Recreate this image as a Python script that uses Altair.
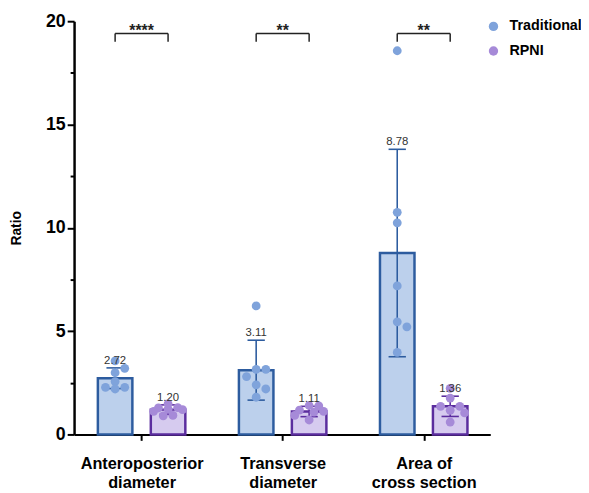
import json
import altair as alt
import pandas as pd

# ---------------- data ----------------
categories = ["Anteroposterior\ndiameter", "Transverse\ndiameter", "Area of\ncross section"]
groups = ["Traditional", "RPNI"]
trad_mean = [2.72, 3.11, 8.78]
rpni_mean = [1.20, 1.11, 1.36]
trad_sd = [0.50, 1.45, 5.02]
rpni_sd = [0.23, 0.25, 0.49]
trad_points = [
    [3.56, 3.20, 2.99, 2.56, 2.28, 2.28, 2.20],
    [6.22, 3.15, 3.15, 2.80, 2.40, 2.20, 1.80],
    [18.57, 10.75, 10.24, 7.19, 5.45, 5.21, 3.97],
]
rpni_points = [
    [1.48, 1.30, 1.28, 1.22, 1.20, 1.12, 0.92, 0.90],
    [1.40, 1.38, 1.18, 1.12, 1.08, 0.92, 0.70],
    [2.23, 1.76, 1.36, 1.36, 1.17, 1.04, 0.60],
]
significance = ["****", "**", "**"]
y_ticks = [0, 2.5, 5, 7.5, 10, 12.5, 15, 17.5, 20]

# ---------------- layout / style ----------------
W, H = 422, 419
PX_PER_X = 146.5
FIRST_CENTER = 65
X_DOMAIN = [-FIRST_CENTER / PX_PER_X, (W - FIRST_CENTER) / PX_PER_X]
PX_PER_Y = H / 20
GROUP_OFF = 27.5 / PX_PER_X
CAP_HALF = 9 / PX_PER_X
DIAM = 10
FONT = "Liberation Sans"

point_col = ["#7FA3DB", "#A68AD8"]
fill_col = ["#BCD0EC", "#D6CBEF"]
stroke_col = ["#2D5C9F", "#5B2D9E"]


def swarm(vals):
    """Simple beeswarm: spread near-equal values sideways, within the bar."""
    placed, offs = [], [0.0] * len(vals)
    order = sorted(range(len(vals)), key=lambda i: -vals[i])
    step = DIAM * 0.5
    cands = [0, 2, -2, 3, -3, 1, -1]
    for i in order:
        y = vals[i] * PX_PER_Y
        best, best_d = 0.0, -1.0
        for c in cands:
            x = c * step
            d = min([((x - px) ** 2 + (y - py) ** 2) ** 0.5 for px, py in placed] or [99])
            if d >= DIAM * 0.85:
                best = x
                break
            if d > best_d:
                best, best_d = x, d
        placed.append((best, y))
        offs[i] = best
    return [o / PX_PER_X for o in offs]


bar_rows, pt_rows, br_rows = [], [], []
for ci in range(len(categories)):
    for gi, (g, means, sds, pts) in enumerate(
        [("Traditional", trad_mean, trad_sd, trad_points), ("RPNI", rpni_mean, rpni_sd, rpni_points)]
    ):
        xc = ci + (-GROUP_OFF if gi == 0 else GROUP_OFF)
        m, s = means[ci], sds[ci]
        bar_rows.append(dict(group=g, x=xc, xl=xc - CAP_HALF, xr=xc + CAP_HALF,
                             mean=m, lo=m - s, hi=m + s, label=f"{m:.2f}"))
        for v, o in zip(pts[ci], swarm(pts[ci])):
            pt_rows.append(dict(group=g, x=xc + o, value=v))
    br_rows.append(dict(x1=ci - GROUP_OFF, x2=ci + GROUP_OFF, ytop=19.4, ylow=19.0, stars=significance[ci]))

bars_df = pd.DataFrame(bar_rows)
pts_df = pd.DataFrame(pt_rows)
br_df = pd.DataFrame(br_rows)

label_arr = json.dumps([c.split("\n") for c in categories])

x_scale = alt.Scale(domain=X_DOMAIN, nice=False, zero=False)
y_scale = alt.Scale(domain=[0, 20], nice=False)

x_axis = alt.Axis(
    values=list(range(len(categories))), labelExpr=f"{label_arr}[datum.value]",
    title=None, grid=False, domainColor="black", domainWidth=2, tickColor="black",
    tickWidth=2, tickSize=6, labelFont=FONT, labelFontSize=16.5, labelFontWeight="bold",
    labelColor="black", labelPadding=16, labelLineHeight=19, labelBaseline="top",
)
y_axis = alt.Axis(
    values=y_ticks, labelExpr="datum.value % 5 == 0 ? datum.label : ''",
    title="Ratio", titleFont=FONT, titleFontSize=14, titleFontWeight="bold", titleColor="black",
    titlePadding=22, grid=False, domainColor="black", domainWidth=2.5, tickColor="black",
    tickWidth=2, tickSize={"condition": {"test": "datum.value % 5 == 0", "value": 7}, "value": 4},
    labelFont=FONT, labelFontSize=18, labelFontWeight="bold", labelColor="black", labelPadding=2,
)

is_trad = alt.datum.group == "Traditional"
dark = alt.condition(is_trad, alt.value(stroke_col[0]), alt.value(stroke_col[1]))
light = alt.condition(is_trad, alt.value(fill_col[0]), alt.value(fill_col[1]))

base = alt.Chart(bars_df)
bars = base.mark_bar(size=35, strokeWidth=2.5).encode(
    x=alt.X("x:Q", scale=x_scale, axis=x_axis),
    y=alt.Y("mean:Q", scale=y_scale, axis=y_axis),
    fill=light, stroke=dark,
)
err = base.mark_rule(strokeWidth=1.6).encode(x="x:Q", y="lo:Q", y2="hi:Q", color=dark)
cap_hi = base.mark_rule(strokeWidth=1.6).encode(x="xl:Q", x2="xr:Q", y="hi:Q", color=dark)
cap_lo = base.mark_rule(strokeWidth=1.6).encode(x="xl:Q", x2="xr:Q", y="lo:Q", color=dark)

points = alt.Chart(pts_df).mark_circle(size=80, opacity=1).encode(
    x="x:Q", y="value:Q",
    color=alt.Color("group:N", scale=alt.Scale(domain=groups, range=point_col),
                    legend=alt.Legend(title=None, orient="none", legendX=418, legendY=-2,
                                      symbolSize=90, symbolType="circle", labelFont=FONT,
                                      labelFontSize=14.5, labelFontWeight="bold", labelColor="black",
                                      rowPadding=10, padding=0, labelOffset=9, labelLimit=0)),
)

texts = base.mark_text(dy=-4, baseline="alphabetic", fontSize=11.5, font=FONT, color="#333333").encode(
    x="x:Q", y="hi:Q", text="label:N"
)

bbase = alt.Chart(br_df)
br_h = bbase.mark_rule(strokeWidth=1.5, color="#222222").encode(x="x1:Q", x2="x2:Q", y="ytop:Q")
br_l = bbase.mark_rule(strokeWidth=1.5, color="#222222").encode(x="x1:Q", y="ylow:Q", y2="ytop:Q")
br_r = bbase.mark_rule(strokeWidth=1.5, color="#222222").encode(x="x2:Q", y="ylow:Q", y2="ytop:Q")
stars = bbase.mark_text(dy=2, baseline="alphabetic", fontSize=16, font=FONT, fontWeight="bold",
                        color="#222222").encode(
    x=alt.X("mid:Q"), y="ytop:Q", text="stars:N"
).transform_calculate(mid="(datum.x1 + datum.x2) / 2")

chart = alt.layer(bars, err, cap_hi, cap_lo, points, texts, br_h, br_l, br_r, stars).properties(
    width=W, height=H,
    autosize=alt.AutoSizeParams(type="none"),
    padding={"left": 67, "top": 10, "right": 92, "bottom": 56},
).configure_view(stroke=None)

chart.save("out.html", embed_options={"renderer": "svg", "actions": False})
